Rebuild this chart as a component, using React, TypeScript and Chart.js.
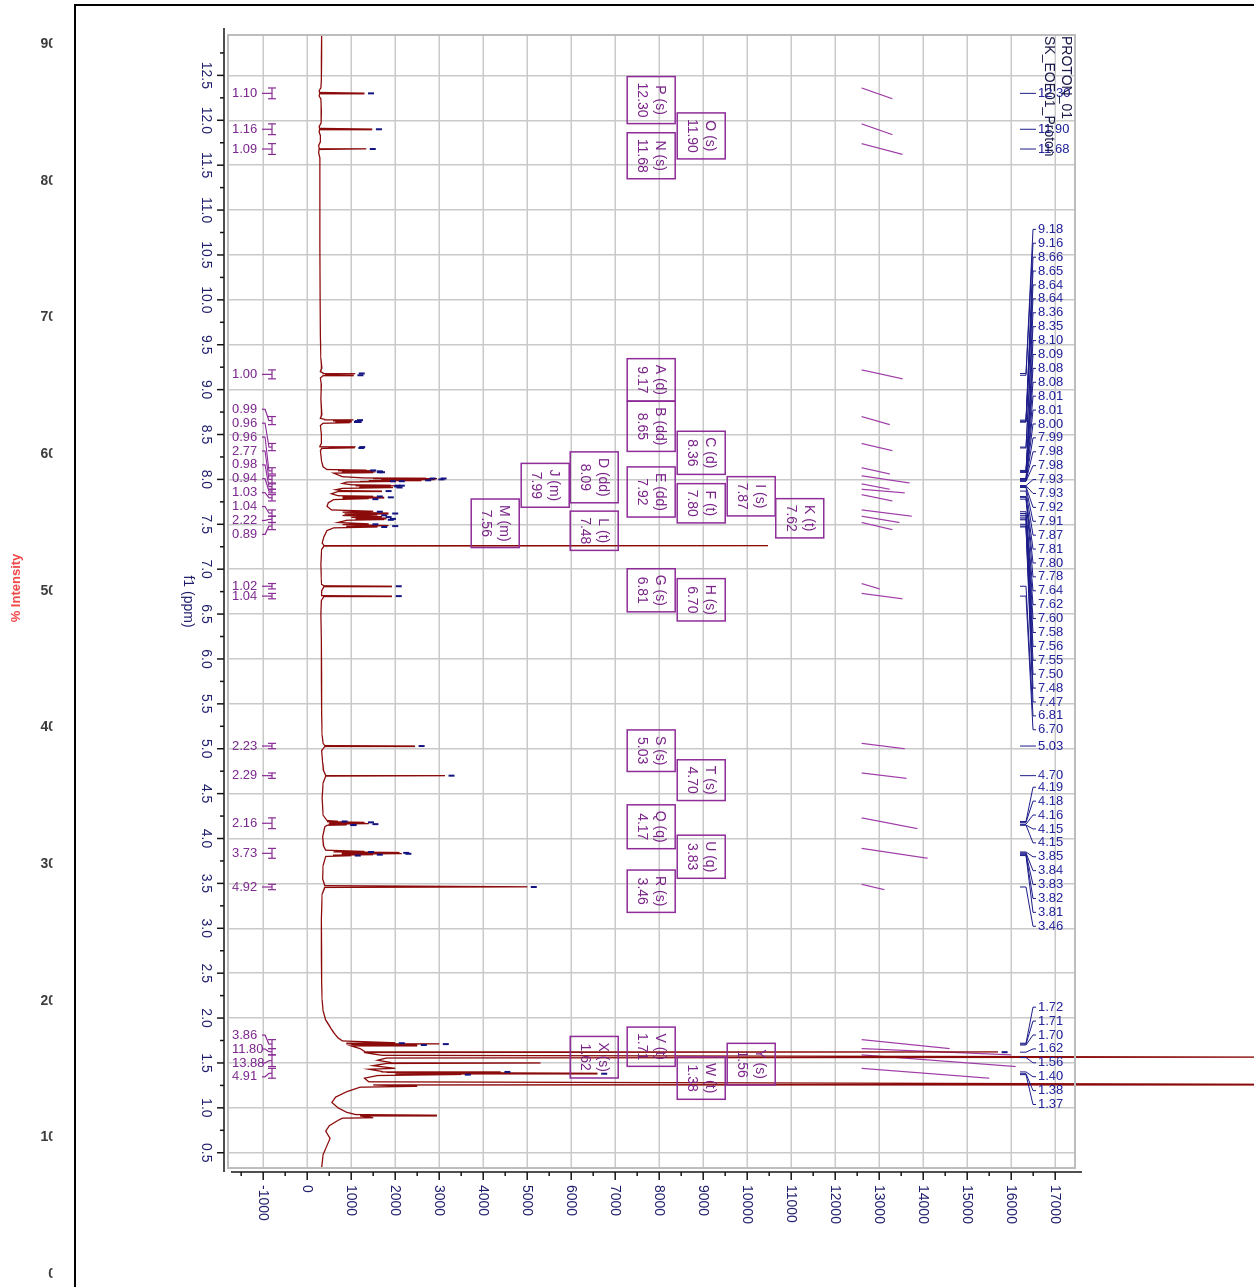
import React, { useEffect, useRef } from 'react';
import { Chart, registerables } from 'chart.js';
Chart.register(...registerables);

// ---------- spectrum (ppm, intensity) ----------
const specHigh: [number, number][] = [
  [12.95, 330], [12.7, 325], [12.45, 322], [12.36, 310], [12.33, 270], [12.31, 280], [12.302, 1300], [12.295, 280],
  [12.27, 270], [12.24, 310], [12.1, 320], [11.97, 315], [11.93, 270], [11.91, 280], [11.902, 1480], [11.895, 280],
  [11.87, 270], [11.83, 300], [11.76, 300], [11.72, 260], [11.69, 270], [11.682, 1340], [11.675, 270], [11.64, 260],
  [11.58, 290], [11.2, 290], [10.6, 290], [10.0, 295], [9.6, 300], [9.35, 310], [9.24, 330],
];
const specAromatic: [number, number][] = [
  [9.2, 300], [9.185, 360], [9.18, 1090], [9.175, 420], [9.165, 420], [9.16, 1060], [9.155, 360], [9.13, 300],
  [9.05, 320], [8.9, 310], [8.72, 330], [8.68, 300], [8.668, 400], [8.663, 1050], [8.657, 600], [8.652, 1000],
  [8.647, 700], [8.642, 1020], [8.637, 650], [8.632, 980], [8.625, 360], [8.6, 300], [8.5, 320], [8.4, 320],
  [8.37, 290], [8.363, 1100], [8.357, 500], [8.352, 1080], [8.345, 330], [8.32, 300], [8.2, 330], [8.14, 360],
  [8.11, 450], [8.103, 1350], [8.099, 700], [8.094, 1500], [8.089, 800], [8.084, 1550], [8.079, 900], [8.075, 1500],
  [8.07, 600], [8.05, 700], [8.03, 800], [8.016, 1300], [8.013, 2700], [8.01, 1500], [8.007, 2950], [8.003, 1700],
  [7.999, 2900], [7.995, 1800], [7.991, 2600], [7.986, 1400], [7.982, 2000], [7.978, 1200], [7.975, 1800], [7.97, 900],
  [7.955, 800], [7.94, 1000], [7.935, 1900], [7.931, 1100], [7.927, 2000], [7.923, 1200], [7.919, 1900], [7.914, 1200],
  [7.909, 1950], [7.9, 800], [7.885, 650], [7.875, 800], [7.87, 1700], [7.865, 700], [7.84, 550], [7.818, 700],
  [7.812, 1500], [7.806, 800], [7.8, 1750], [7.793, 800], [7.786, 1400], [7.775, 600], [7.74, 480], [7.7, 450],
  [7.66, 550], [7.645, 1500], [7.635, 800], [7.625, 1850], [7.615, 850], [7.605, 1600], [7.598, 800], [7.585, 1700],
  [7.577, 1000], [7.568, 1800], [7.561, 1100], [7.553, 1750], [7.545, 900], [7.52, 700], [7.505, 1400], [7.497, 800],
  [7.485, 1850], [7.477, 900], [7.47, 1600], [7.46, 600], [7.43, 450], [7.36, 380], [7.29, 340], [7.266, 380],
  [7.262, 10470], [7.257, 380], [7.22, 330], [7.05, 310], [6.88, 320], [6.83, 330], [6.815, 380], [6.81, 1930],
  [6.805, 380], [6.76, 330], [6.71, 330], [6.705, 380], [6.7, 1930], [6.695, 380], [6.65, 320], [6.5, 310],
];
const specMid: [number, number][] = [
  [6.2, 320], [5.8, 325], [5.4, 330], [5.15, 340], [5.06, 360], [5.035, 400], [5.03, 2450], [5.025, 400],
  [4.98, 330], [4.85, 350], [4.76, 370], [4.705, 420], [4.7, 3130], [4.695, 420], [4.62, 360], [4.45, 340],
  [4.26, 360], [4.2, 450], [4.192, 700], [4.187, 450], [4.18, 1300], [4.174, 500], [4.166, 1400], [4.16, 500],
  [4.152, 900], [4.147, 450], [4.13, 400], [4.02, 350], [3.92, 370], [3.87, 420], [3.856, 1300], [3.851, 600],
  [3.844, 2100], [3.838, 800], [3.832, 2150], [3.826, 800], [3.82, 1500], [3.815, 600], [3.809, 1000], [3.8, 420],
  [3.7, 360], [3.55, 350], [3.475, 400], [3.462, 5000], [3.455, 400], [3.38, 340], [3.1, 320], [2.7, 325], [2.4, 330],
];
const specAliphatic: [number, number][] = [
  [2.2, 340], [2.08, 360], [1.98, 420], [1.9, 520], [1.84, 600], [1.78, 700], [1.745, 800], [1.725, 2000],
  [1.72, 900], [1.713, 3000], [1.707, 1000], [1.7, 2500], [1.69, 1000], [1.66, 1200], [1.63, 1300], [1.623, 15700],
  [1.616, 1300], [1.6, 1500], [1.585, 1700], [1.565, 22000], [1.555, 1800], [1.53, 1600], [1.505, 1900], [1.5, 5300],
  [1.494, 1800], [1.47, 1500], [1.44, 2000], [1.43, 1400], [1.405, 1700], [1.4, 4400], [1.395, 1800], [1.385, 6600],
  [1.378, 2000], [1.372, 3500], [1.36, 1600], [1.33, 1300], [1.29, 1400], [1.262, 22000], [1.255, 1500], [1.24, 2500],
  [1.23, 1200], [1.18, 900], [1.12, 650], [1.06, 560], [1.0, 700], [0.95, 900], [0.925, 1100], [0.918, 2950],
  [0.91, 1200], [0.89, 1500], [0.885, 800], [0.86, 700], [0.8, 500], [0.74, 420], [0.66, 520], [0.58, 450],
  [0.48, 360], [0.33, 330],
];

// ---------- picked peaks ----------
const peaksTop = [12.30, 11.90, 11.68];
const peaksTopHeight = [1300, 1480, 1340];
const peaksAromatic = [9.18, 9.16, 8.66, 8.65, 8.64, 8.64, 8.36, 8.35, 8.10, 8.09, 8.08, 8.08, 8.01, 8.01, 8.00, 7.99, 7.98, 7.98,
  7.93, 7.93, 7.92, 7.91, 7.87, 7.81, 7.80, 7.78, 7.64, 7.62, 7.60, 7.58, 7.56, 7.55, 7.50, 7.48, 7.47, 6.81, 6.70];
const peaksAromaticHeight = [1090, 1060, 1050, 1000, 1020, 980, 1100, 1080, 1350, 1500, 1550, 1500, 2700, 2950, 2900, 2600, 2000, 1800,
  1900, 2000, 1900, 1950, 1700, 1500, 1750, 1400, 1500, 1850, 1600, 1700, 1800, 1750, 1400, 1850, 1600, 1930, 1930];
const peaksSingle = [5.03, 4.70];
const peaksSingleHeight = [2450, 3130];
const peaksMid = [4.19, 4.18, 4.16, 4.15, 4.15, 3.85, 3.84, 3.83, 3.82, 3.81, 3.46];
const peaksMidHeight = [700, 1300, 1400, 900, 900, 1300, 2100, 2150, 1500, 1000, 5000];
const peaksAliphatic = [1.72, 1.71, 1.70, 1.62, 1.56, 1.40, 1.38, 1.37];
const peaksAliphaticHeight = [2000, 3000, 2500, 15700, 22000, 4400, 6600, 3500];

// label slot start (ppm of first label), null = label sits at its own peak
const peakGroups: { ppm: number[]; slot: number | null }[] = [
  { ppm: peaksTop, slot: null },
  { ppm: peaksAromatic, slot: 10.785 },
  { ppm: peaksSingle, slot: null },
  { ppm: peaksMid, slot: 4.571 },
  { ppm: peaksAliphatic, slot: 2.121 },
];

// ---------- multiplet boxes ----------
const boxNames = ['P (s)', 'O (s)', 'N (s)', 'A (d)', 'B (dd)', 'C (d)', 'D (dd)', 'J (m)', 'E (dd)', 'F (t)', 'I (s)', 'K (t)', 'M (m)',
  'L (t)', 'G (s)', 'H (s)', 'S (s)', 'T (s)', 'Q (q)', 'U (q)', 'R (s)', 'X (s)', 'V (t)', 'W (t)', 'Y (s)'];
const boxShifts = ['12.30', '11.90', '11.68', '9.17', '8.65', '8.36', '8.09', '7.99', '7.92', '7.80', '7.87', '7.62', '7.56',
  '7.48', '6.81', '6.70', '5.03', '4.70', '4.17', '3.83', '3.46', '1.62', '1.71', '1.38', '1.56'];
const boxCenterPpm = [12.225, 11.826, 11.605, 9.109, 8.591, 8.296, 8.023, 7.934, 7.86, 7.734, 7.812, 7.567, 7.511,
  7.428, 6.765, 6.659, 4.978, 4.65, 4.131, 3.797, 3.413, 1.564, 1.681, 1.331, 1.487];
const boxLevel = [7818, 8955, 7818, 7818, 7818, 8955, 6523, 5409, 7818, 8955, 10091, 11194, 4273,
  6523, 7818, 8955, 7818, 8955, 7818, 8955, 7818, 6523, 7818, 8955, 10091];

// ---------- integrals ----------
const intFrom = [12.36, 11.96, 11.74, 9.22, 8.70, 8.40, 8.13, 8.04, 7.95, 7.89, 7.83, 7.66, 7.59, 7.52, 6.84, 6.73, 5.06, 4.73, 4.23, 3.89, 3.49, 1.76, 1.66, 1.59, 1.44];
const intTo = [12.24, 11.84, 11.62, 9.12, 8.61, 8.32, 8.06, 7.96, 7.89, 7.85, 7.76, 7.59, 7.52, 7.44, 6.78, 6.67, 5.00, 4.67, 4.11, 3.78, 3.43, 1.66, 1.59, 1.46, 1.33];
const intValues = ['1.10', '1.16', '1.09', '1.00', '0.99', '0.96', '0.96', '2.77', '0.98', '0.94', '1.03', '1.04', '2.22', '0.89', '1.02', '1.04',
  '2.23', '2.29', '2.16', '3.73', '4.92', '3.86', '11.80', '13.88', '4.91'];
const intCurveRise = [700, 700, 930, 930, 640, 700, 640, 1090, 640, 980, 700, 1140, 860, 700, 410, 930, 980, 1020, 1270, 1500, 520, 2000, 3400, 3500, 2900];
const intCurveBase = 12600;
const intGroups: { idx: number[]; slot: number | null }[] = [
  { idx: [0, 1, 2, 3], slot: null },
  { idx: [4, 5, 6, 7, 8, 9, 10, 11, 12, 13], slot: 8.781 },
  { idx: [14, 15], slot: null },
  { idx: [16, 17, 18, 19, 20], slot: null },
  { idx: [21, 22, 23, 24], slot: 1.81 },
];

// ---------- axis / page texts ----------
const intensityTicks = [-1000, 0, 1000, 2000, 3000, 4000, 5000, 6000, 7000, 8000, 9000, 10000, 11000, 12000, 13000, 14000, 15000, 16000, 17000];
const pctTicks = [90, 80, 70, 60, 50, 40, 30, 20, 10, 0];
const titleLines = ['PROTON_01', 'SK_EOE01_Proton'];

const W = 1287;
const H = 1254;
const FONT = "'Liberation Sans', Arial, sans-serif";
const SLOT = 13.9;

function rotText(ctx: CanvasRenderingContext2D, t: string, x: number, y: number, a: number, align: CanvasTextAlign) {
  ctx.save();
  ctx.translate(x, y);
  ctx.rotate(a);
  ctx.textAlign = align;
  ctx.textBaseline = 'middle';
  ctx.fillText(t, 0, 0);
  ctx.restore();
}
function seg(ctx: CanvasRenderingContext2D, pts: number[][]) {
  ctx.beginPath();
  ctx.moveTo(pts[0][0], pts[0][1]);
  for (let i = 1; i < pts.length; i++) ctx.lineTo(pts[i][0], pts[i][1]);
  ctx.stroke();
}

const overlay = {
  id: 'nmrOverlay',
  beforeDraw(chart: any) {
    const ctx = chart.ctx;
    ctx.save();
    ctx.fillStyle = '#ffffff';
    ctx.fillRect(0, 0, W, H);
    ctx.restore();
  },
  afterDraw(chart: any) {
    const ctx: CanvasRenderingContext2D = chart.ctx;
    const xs = chart.scales.x;
    const ys = chart.scales.y;
    const { left, right, top, bottom } = chart.chartArea;
    const px = (v: number) => xs.getPixelForValue(v);
    const py = (v: number) => ys.getPixelForValue(v);
    ctx.save();

    // plot box
    ctx.strokeStyle = '#bdbdbd';
    ctx.lineWidth = 2;
    ctx.strokeRect(left, top, right - left, bottom - top);

    // black axes with ticks
    ctx.strokeStyle = '#151515';
    ctx.lineWidth = 1.5;
    const axY = bottom + 4;
    seg(ctx, [[left - 7, axY], [right + 4, axY]]);
    for (let k = 1; k <= 51; k++) {
      const v = k * 0.25;
      if (v < xs.min || v > xs.max) continue;
      const x = px(v);
      seg(ctx, [[x, axY], [x, axY + (k % 2 === 0 ? 7 : 4)]]);
    }
    const axX = right + 4;
    seg(ctx, [[axX, bottom - 3], [axX, top - 7]]);
    for (let k = -3; k <= 34; k++) {
      const v = k * 500;
      if (v < ys.min || v > ys.max) continue;
      const y = py(v);
      seg(ctx, [[axX, y], [axX + (k % 2 === 0 ? 8 : 4), y]]);
    }

    // axis title
    ctx.fillStyle = '#1d1d6b';
    ctx.font = `14px ${FONT}`;
    ctx.textAlign = 'center';
    ctx.textBaseline = 'middle';
    ctx.fillText('f1 (ppm)', (left + right) / 2, bottom + 40);

    // multiplet boxes
    ctx.font = `14px ${FONT}`;
    boxNames.forEach((name, i) => {
      const cx = px(boxCenterPpm[i]);
      const cy = py(boxLevel[i]);
      const w = Math.max(ctx.measureText(name).width, ctx.measureText(boxShifts[i]).width) + 12;
      const h = 48;
      ctx.strokeStyle = '#8e2c98';
      ctx.lineWidth = 1.5;
      ctx.strokeRect(cx - w / 2, cy - h / 2, w, h);
      ctx.fillStyle = '#7a2388';
      ctx.textAlign = 'center';
      ctx.textBaseline = 'middle';
      ctx.fillText(name, cx, cy - 9);
      ctx.fillText(boxShifts[i], cx, cy + 9);
    });

    // peak labels with connectors
    ctx.font = `13px ${FONT}`;
    ctx.fillStyle = '#25259b';
    ctx.strokeStyle = '#1c1c8a';
    ctx.lineWidth = 1;
    peakGroups.forEach((g) => {
      const x0 = g.slot === null ? 0 : px(g.slot);
      g.ppm.forEach((p, i) => {
        const xp = px(p);
        const xl = g.slot === null ? xp : x0 + i * SLOT;
        if (g.slot === null) {
          seg(ctx, [[xp, top + 55], [xp, top + 39]]);
        } else {
          seg(ctx, [[xl, top + 39], [xl, top + 42], [xp, top + 49], [xp, top + 55]]);
        }
        rotText(ctx, p.toFixed(2), xl, top + 37, -Math.PI / 2, 'left');
      });
    });

    // integral labels with brackets
    ctx.font = `13px ${FONT}`;
    ctx.fillStyle = '#7d2a8f';
    ctx.strokeStyle = '#8a2a96';
    ctx.lineWidth = 1.2;
    intGroups.forEach((g) => {
      const x0 = g.slot === null ? 0 : px(g.slot);
      g.idx.forEach((k, i) => {
        const x1 = px(intFrom[k]);
        const x2 = px(intTo[k]);
        const xc = (x1 + x2) / 2;
        const xl = g.slot === null ? xc : x0 + i * SLOT;
        seg(ctx, [[xl, bottom - 34], [xl, bottom - 37], [xc, bottom - 41], [xc, bottom - 44]]);
        seg(ctx, [[x1, bottom - 44], [x2, bottom - 44]]);
        seg(ctx, [[x1, bottom - 40], [x1, bottom - 48]]);
        seg(ctx, [[x2, bottom - 40], [x2, bottom - 48]]);
        rotText(ctx, intValues[k], xl, bottom - 4, -Math.PI / 2, 'left');
      });
    });

    // titles
    ctx.font = `14px ${FONT}`;
    ctx.fillStyle = '#1a1a48';
    ctx.textAlign = 'left';
    ctx.textBaseline = 'middle';
    ctx.fillText(titleLines[0], left + 1, top + 9);
    ctx.fillText(titleLines[1], left + 1, top + 26);

    // outer frame
    ctx.fillStyle = '#000000';
    ctx.fillRect(4, 0, 2, 1180);
    ctx.fillRect(4, 1178, W, 2);

    // clipped percent axis outside the frame
    ctx.save();
    ctx.beginPath();
    ctx.rect(0, 1201.5, W, H - 1201.5);
    ctx.clip();
    ctx.font = `bold 14px ${FONT}`;
    ctx.fillStyle = '#3c3c3c';
    pctTicks.forEach((t, i) => rotText(ctx, String(t), 44 + i * 136.7, 1198, -Math.PI / 2, 'right'));
    ctx.restore();

    ctx.font = `bold 13px ${FONT}`;
    ctx.fillStyle = '#f04848';
    rotText(ctx, '% Intensity', 588, 1238, Math.PI, 'center');

    ctx.restore();
  },
};

export default function App() {
  const ref = useRef<HTMLCanvasElement>(null);
  useEffect(() => {
    const canvas = ref.current!;
    const spectrum = [...specHigh, ...specAromatic, ...specMid, ...specAliphatic].map(([x, y]) => ({ x, y }));
    const allPeaks = [...peaksTop, ...peaksAromatic, ...peaksSingle, ...peaksMid, ...peaksAliphatic];
    const allHeights = [...peaksTopHeight, ...peaksAromaticHeight, ...peaksSingleHeight, ...peaksMidHeight, ...peaksAliphaticHeight];
    const markers = allPeaks.map((p, i) => ({ x: p, y: allHeights[i] + 150 }));
    const integrals: { x: number; y: number | null }[] = [];
    intFrom.forEach((f, i) => {
      integrals.push({ x: f, y: intCurveBase });
      integrals.push({ x: intTo[i], y: intCurveBase + intCurveRise[i] });
      integrals.push({ x: intTo[i], y: null });
    });
    const tickFont = { family: FONT, size: 14 };
    const chart = new Chart(canvas, {
      type: 'line',
      data: {
        datasets: [
          {
            data: markers, showLine: false, pointStyle: 'line', pointRadius: 3, pointBorderWidth: 2,
            pointBorderColor: '#141480', pointRotation: 90, clip: false,
          } as any,
          { data: spectrum, borderColor: '#8b0a0a', borderWidth: 1.3, pointRadius: 0, tension: 0, clip: false } as any,
          { data: integrals, borderColor: '#a03ca8', borderWidth: 1.2, pointRadius: 0, spanGaps: false } as any,
        ],
      },
      options: {
        animation: false,
        responsive: false,
        devicePixelRatio: 1,
        events: [],
        layout: { padding: { left: 35, top: 179, right: 39, bottom: 168 } },
        plugins: { legend: { display: false }, tooltip: { enabled: false }, title: { display: false } },
        scales: {
          x: {
            type: 'linear', reverse: true, min: 0.33, max: 12.95, position: 'bottom',
            afterFit: (s: any) => { s.height = 60; },
            grid: { color: '#c9c9c9', lineWidth: 1.5, drawTicks: false },
            border: { display: true, color: '#bdbdbd', width: 2 },
            ticks: {
              stepSize: 0.5, includeBounds: false, padding: 14, color: '#1d1d6b', font: tickFont,
              maxRotation: 0, minRotation: 0, autoSkip: false,
              callback: (v: any) => Number(v).toFixed(1),
            },
          },
          y: {
            type: 'linear', position: 'right', min: -1800, max: 17450,
            afterFit: (s: any) => { s.width = 80; },
            afterBuildTicks: (s: any) => { s.ticks = intensityTicks.map((v) => ({ value: v })); },
            grid: { color: '#c9c9c9', lineWidth: 1.5, drawTicks: false },
            border: { display: true, color: '#bdbdbd', width: 2 },
            ticks: {
              padding: 17, color: '#1d1d6b', font: tickFont, autoSkip: false,
              callback: (v: any) => String(Math.round(Number(v))),
            },
          },
        },
      } as any,
      plugins: [overlay],
    });
    return () => chart.destroy();
  }, []);
  return (
    <div
      style={{
        position: 'fixed', left: 0, top: 0, width: W, height: H, background: '#fff',
        transformOrigin: '0 0', transform: 'translate(1254px, 0px) rotate(90deg)',
      }}
    >
      <canvas ref={ref} width={W} height={H} style={{ display: 'block', width: W, height: H }} />
    </div>
  );
}
